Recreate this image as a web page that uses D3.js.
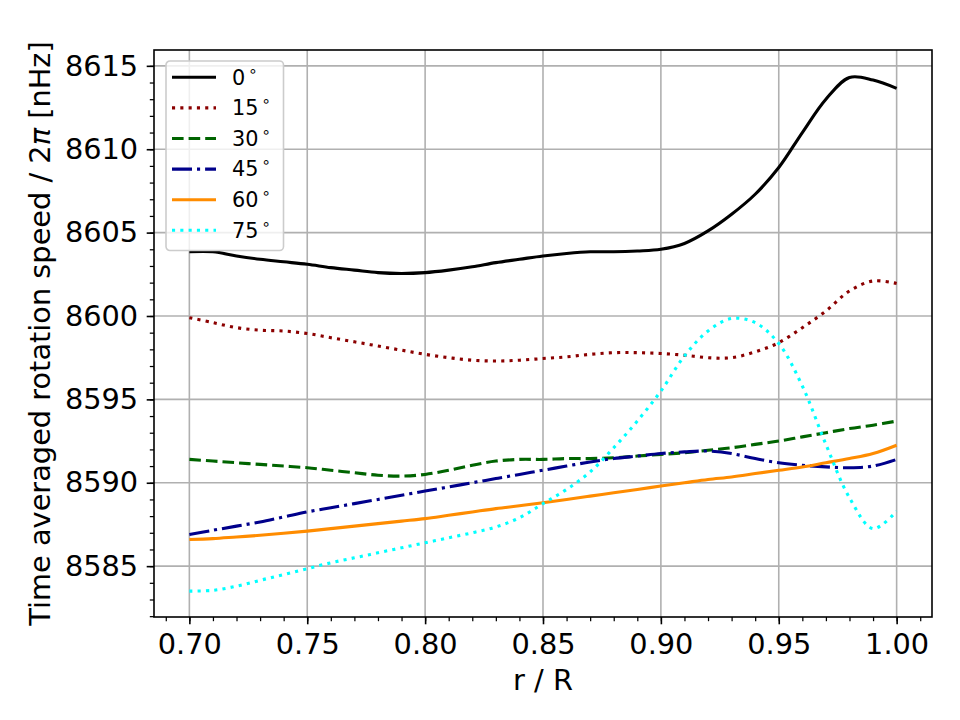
<!DOCTYPE html>
<html>
<head>
<meta charset="utf-8">
<script src="https://cdn.jsdelivr.net/npm/d3@7"></script>
<style>
  body { margin: 0; background: #fff; }
  text { font-family: "DejaVu Sans", sans-serif; }
</style>
</head>
<body>
<div id="chart"></div>
<script>
// radius r / R
const radius = [0.70, 0.71, 0.72, 0.73, 0.74, 0.75, 0.76, 0.77, 0.78, 0.79,
                0.80, 0.81, 0.82, 0.83, 0.84, 0.85, 0.86, 0.87, 0.88, 0.89,
                0.90, 0.91, 0.92, 0.93, 0.94, 0.95, 0.96, 0.97, 0.98, 0.99, 1.00]

const lat0 = [8603.85, 8603.85, 8603.6, 8603.4, 8603.25, 8603.1, 8602.9, 8602.75, 8602.6, 8602.55,
              8602.6, 8602.75, 8602.95, 8603.2, 8603.4, 8603.6, 8603.75, 8603.85, 8603.85, 8603.9,
              8604.0, 8604.35, 8605.1, 8606.1, 8607.3, 8608.9, 8611.0, 8613.0, 8614.3, 8614.15, 8613.65]
const lat15 = [8599.9, 8599.6, 8599.3, 8599.15, 8599.1, 8598.95, 8598.7, 8598.45, 8598.2, 8597.95,
               8597.7, 8597.5, 8597.35, 8597.3, 8597.35, 8597.45, 8597.55, 8597.7, 8597.8, 8597.8,
               8597.75, 8597.65, 8597.5, 8597.5, 8597.85, 8598.4, 8599.3, 8600.3, 8601.5, 8602.1, 8601.95]
const lat30 = [8591.4, 8591.3, 8591.2, 8591.1, 8591.0, 8590.9, 8590.75, 8590.6, 8590.45, 8590.4,
               8590.5, 8590.75, 8591.05, 8591.3, 8591.4, 8591.4, 8591.45, 8591.45, 8591.5, 8591.6,
               8591.7, 8591.8, 8591.95, 8592.1, 8592.3, 8592.5, 8592.75, 8593.0, 8593.25, 8593.45, 8593.7]
const lat45 = [8586.9, 8587.15, 8587.4, 8587.65, 8587.95, 8588.25, 8588.5, 8588.75, 8589.0, 8589.25,
               8589.5, 8589.75, 8590.0, 8590.25, 8590.5, 8590.75, 8591.0, 8591.25, 8591.45, 8591.6,
               8591.75, 8591.85, 8591.9, 8591.75, 8591.45, 8591.2, 8591.05, 8590.95, 8590.9, 8591.0, 8591.4]
const lat60 = [8586.6, 8586.65, 8586.75, 8586.85, 8586.97, 8587.1, 8587.25, 8587.4, 8587.55, 8587.7,
               8587.85, 8588.05, 8588.25, 8588.45, 8588.62, 8588.8, 8589.0, 8589.2, 8589.4, 8589.6,
               8589.8, 8590.0, 8590.2, 8590.35, 8590.55, 8590.75, 8590.95, 8591.2, 8591.45, 8591.75, 8592.25]
const lat75 = [8583.5, 8583.55, 8583.8, 8584.15, 8584.5, 8584.85, 8585.2, 8585.5, 8585.8, 8586.1,
               8586.4, 8586.7, 8587.0, 8587.35, 8587.9, 8588.75, 8589.6, 8590.65, 8592.1, 8593.7,
               8595.5, 8597.6, 8599.1, 8599.85, 8599.6, 8598.35, 8595.8, 8592.3, 8589.1, 8587.25, 8588.3]

const seriesNames = ['0', '15', '30', '45', '60', '75']
const seriesValues = [lat0, lat15, lat30, lat45, lat60, lat75]
const seriesColors = ['#000000', '#8b0000', '#006400', '#00008b', '#ff8c00', '#00ffff']
const seriesDash = ['none', '3.1,5.2', '11.6,5', '20,5,3.1,5', 'none', '3.1,5.2']

const xTicks = [0.70, 0.75, 0.80, 0.85, 0.90, 0.95, 1.00]
const yTicks = [8585, 8590, 8595, 8600, 8605, 8610, 8615]

const width = 960
const height = 720
const margin = { top: 50, right: 28, bottom: 103, left: 154 }
const innerW = width - margin.left - margin.right
const innerH = height - margin.top - margin.bottom
const tickFont = 28.8

const svg = d3.select('#chart')
              .append('svg')
              .attr('width', width)
              .attr('height', height)

const g = svg.append('g')
             .attr('transform', `translate(${margin.left}, ${margin.top})`)

const x = d3.scaleLinear()
            .domain([0.685, 1.015])
            .range([0, innerW])

const y = d3.scaleLinear()
            .domain([8581.95, 8615.95])
            .range([innerH, 0])

// grid
g.append('g')
 .selectAll('line')
 .data(xTicks)
 .enter()
 .append('line')
 .attr('x1', d => x(d)).attr('x2', d => x(d))
 .attr('y1', 0).attr('y2', innerH)
 .attr('stroke', '#b0b0b0')
 .attr('stroke-width', 1.6)

g.append('g')
 .selectAll('line')
 .data(yTicks)
 .enter()
 .append('line')
 .attr('y1', d => y(d)).attr('y2', d => y(d))
 .attr('x1', 0).attr('x2', innerW)
 .attr('stroke', '#b0b0b0')
 .attr('stroke-width', 1.6)

// lines
const line = d3.line()
               .x((_, i) => x(radius[i]))
               .y(d => y(d))
               .curve(d3.curveCatmullRom.alpha(0.5))

seriesValues.forEach((vals, k) => {
    g.append('path')
     .datum(vals)
     .attr('fill', 'none')
     .attr('stroke', seriesColors[k])
     .attr('stroke-width', 3.1)
     .attr('stroke-dasharray', seriesDash[k])
     .attr('stroke-linejoin', 'round')
     .attr('d', line)
})

// axes
const xMinor = d3.range(69, 102).map(d => d / 100)
const yMinor = d3.range(8582, 8616)

g.append('g')
 .attr('transform', `translate(0, ${innerH})`)
 .call(d3.axisBottom(x).tickValues(xMinor).tickFormat('').tickSize(4.2).tickSizeOuter(0))
 .call(a => a.select('.domain').remove())
 .selectAll('line').attr('stroke-width', 1.25)

g.append('g')
 .call(d3.axisLeft(y).tickValues(yMinor).tickFormat('').tickSize(4.2).tickSizeOuter(0))
 .call(a => a.select('.domain').remove())
 .selectAll('line').attr('stroke-width', 1.25)

const xAxis = g.append('g')
 .attr('transform', `translate(0, ${innerH})`)
 .call(d3.axisBottom(x).tickValues(xTicks).tickFormat(d3.format('.2f')).tickSize(7.3).tickPadding(9.4).tickSizeOuter(0))
xAxis.select('.domain').remove()
xAxis.selectAll('line').attr('stroke-width', 1.6)
xAxis.selectAll('text').attr('font-size', tickFont).attr('font-family', 'DejaVu Sans').attr('fill', '#000')

const yAxis = g.append('g')
 .call(d3.axisLeft(y).tickValues(yTicks).tickFormat(d3.format('d')).tickSize(7.3).tickPadding(8.5).tickSizeOuter(0))
yAxis.select('.domain').remove()
yAxis.selectAll('line').attr('stroke-width', 1.6)
yAxis.selectAll('text').attr('font-size', tickFont).attr('font-family', 'DejaVu Sans').attr('fill', '#000')

// frame
g.append('rect')
 .attr('width', innerW)
 .attr('height', innerH)
 .attr('fill', 'none')
 .attr('stroke', '#000')
 .attr('stroke-width', 1.6)

// axis labels
svg.append('text')
   .attr('x', margin.left + innerW / 2)
   .attr('y', 690)
   .attr('text-anchor', 'middle')
   .attr('font-size', tickFont)
   .text('r / R')

const yl = svg.append('text')
   .attr('transform', `translate(49.5, ${margin.top + innerH / 2}) rotate(-90)`)
   .attr('text-anchor', 'middle')
   .attr('font-size', tickFont)
yl.append('tspan').text('Time averaged rotation speed / 2')
yl.append('tspan').attr('font-style', 'italic').text('π')
yl.append('tspan').text(' [nHz]')

// legend
const legend = g.append('g')
                .attr('transform', 'translate(12, 11)')

legend.append('rect')
      .attr('width', 117.5)
      .attr('height', 189.5)
      .attr('rx', 4)
      .attr('fill', '#fff')
      .attr('fill-opacity', 0.8)
      .attr('stroke', '#cccccc')
      .attr('stroke-width', 1.6)

seriesNames.forEach((name, k) => {
    const row = legend.append('g')
                      .attr('transform', `translate(0, ${16.3 + k * 30.6})`)
    row.append('line')
       .attr('x1', 6).attr('x2', 50)
       .attr('stroke', seriesColors[k])
       .attr('stroke-width', 3.1)
       .attr('stroke-dasharray', seriesDash[k])
    const t = row.append('text')
       .attr('x', 66)
       .attr('y', 7.3)
       .attr('font-size', 20.8)
    t.append('tspan').text(name)
    t.append('tspan')
     .attr('dx', 3)
     .attr('dy', -9)
     .attr('font-size', 15)
     .text('∘')
})
</script>
</body>
</html>
